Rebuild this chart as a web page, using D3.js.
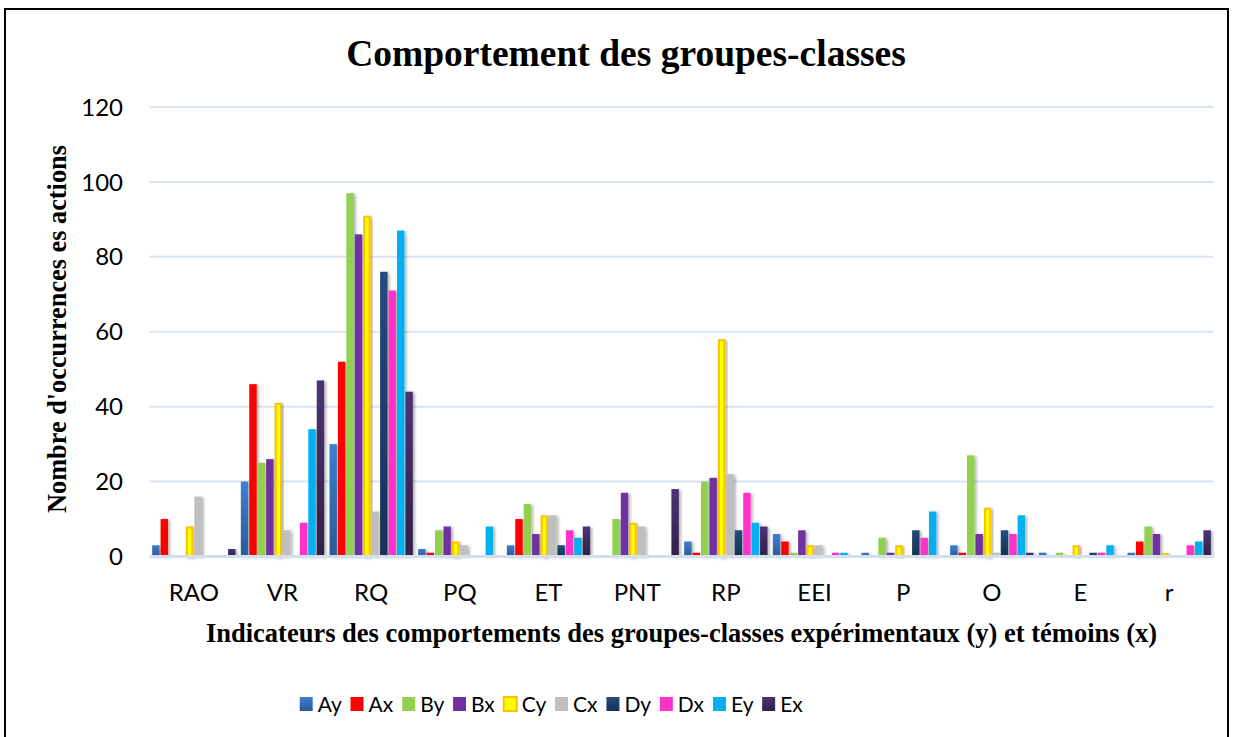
<!DOCTYPE html>
<html>
<head>
<meta charset="utf-8">
<script src="https://cdn.jsdelivr.net/npm/d3@7"></script>
<style>
  body { margin: 0; background: #fff; }
  svg { display: block; }
</style>
</head>
<body>
<svg id="chart" width="1233" height="737"></svg>
<script>
// categories (indicateurs) and series (groupes-classes)
const categories = ["RAO", "VR", "RQ", "PQ", "ET", "PNT", "RP", "EEI", "P", "O", "E", "r"];
const seriesNames = ["Ay", "Ax", "By", "Bx", "Cy", "Cx", "Dy", "Dx", "Ey", "Ex"];

const Ay = [3, 20, 30, 2, 3, 0, 4, 6, 1, 3, 1, 1];
const Ax = [10, 46, 52, 1, 10, 0, 1, 4, 0, 1, 0, 4];
const By = [0, 25, 97, 7, 14, 10, 20, 1, 5, 27, 1, 8];
const Bx = [0, 26, 86, 8, 6, 17, 21, 7, 1, 6, 0, 6];
const Cy = [8, 41, 91, 4, 11, 9, 58, 3, 3, 13, 3, 1];
const Cx = [16, 7, 12, 3, 11, 8, 22, 3, 0, 1, 0, 0];
const Dy = [0, 0, 76, 0, 3, 0, 7, 0, 7, 7, 1, 0];
const Dx = [0, 9, 71, 0, 7, 0, 17, 1, 5, 6, 1, 3];
const Ey = [0, 34, 87, 8, 5, 0, 9, 1, 12, 11, 3, 4];
const Ex = [2, 47, 44, 0, 8, 18, 8, 0, 0, 1, 0, 7];

const yTicks = [0, 20, 40, 60, 80, 100, 120];

const seriesValues = { Ay, Ax, By, Bx, Cy, Cx, Dy, Dx, Ey, Ex };

const colors = {
  Ay: ["#3d7fd2", "#2b5b95"],
  Ax: ["#ff0000", "#ff0000"],
  By: ["#92d050", "#92d050"],
  Bx: ["#7030a0", "#7030a0"],
  Cy: ["#ffff00", "#ffff00"],
  Cx: ["#bfbfbf", "#bfbfbf"],
  Dy: ["#224c7c", "#163056"],
  Dx: ["#ff33cc", "#ff33cc"],
  Ey: ["#00b0f0", "#00b0f0"],
  Ex: ["#4b3373", "#31204a"]
};

const svg = d3.select("#chart");
const defs = svg.append("defs");

const shadow = defs.append("filter").attr("id", "shadow")
  .attr("x", "-50%").attr("y", "-10%").attr("width", "200%").attr("height", "130%");
shadow.append("feDropShadow")
  .attr("dx", 2).attr("dy", 1).attr("stdDeviation", 1.8)
  .attr("flood-color", "#000").attr("flood-opacity", 0.3);

seriesNames.forEach(s => {
  const g = defs.append("linearGradient").attr("id", "grad-" + s)
    .attr("x1", 0).attr("y1", 0).attr("x2", 0).attr("y2", 1);
  g.append("stop").attr("offset", "0%").attr("stop-color", colors[s][0]);
  g.append("stop").attr("offset", "100%").attr("stop-color", colors[s][1]);
});

// outer frame
svg.append("rect")
  .attr("x", 5).attr("y", 9).attr("width", 1223).attr("height", 740)
  .attr("fill", "none").attr("stroke", "#000").attr("stroke-width", 2);

const plot = { left: 149.5, right: 1213.5, top: 107, bottom: 556.5 };

const x0 = d3.scaleBand()
  .domain(categories)
  .range([plot.left, plot.right])
  .paddingInner(0.06)
  .paddingOuter(0.03);

const x1 = d3.scaleBand()
  .domain(seriesNames)
  .range([0, x0.bandwidth()])
  .paddingInner(0.12);

const y = d3.scaleLinear().domain([0, 120]).range([plot.bottom, plot.top]);

// gridlines
svg.append("g")
  .selectAll("line")
  .data(yTicks.filter(t => t > 0))
  .join("line")
  .attr("x1", plot.left).attr("x2", plot.right)
  .attr("y1", d => y(d)).attr("y2", d => y(d))
  .attr("stroke", "#d9e3f1").attr("stroke-width", 2);

// y tick labels
svg.append("g")
  .selectAll("text")
  .data(yTicks)
  .join("text")
  .attr("x", 123)
  .attr("y", d => y(d))
  .attr("dy", "0.36em")
  .attr("text-anchor", "end")
  .attr("font-family", "Lato, sans-serif")
  .attr("font-size", 24)
  .attr("fill", "#000")
  .text(d => d);

// bars
const rows = categories.map((c, i) => ({
  cat: c,
  values: seriesNames.map(s => ({ s, v: seriesValues[s][i] }))
}));

const groups = svg.append("g")
  .selectAll("g")
  .data(rows)
  .join("g")
  .attr("transform", d => `translate(${x0(d.cat)},0)`);

groups.selectAll("rect")
  .data(d => d.values.filter(e => e.v > 0))
  .join("rect")
  .attr("x", d => x1(d.s) + (d.s === "Cy" ? 1 : 0))
  .attr("y", d => y(d.v) + (d.s === "Cy" ? 1 : 0))
  .attr("width", d => x1.bandwidth() - (d.s === "Cy" ? 2 : 0))
  .attr("height", d => Math.max(0, y(0) - y(d.v) - (d.s === "Cy" ? 1 : 0)))
  .attr("fill", d => `url(#grad-${d.s})`)
  .attr("stroke", d => d.s === "Cy" ? "#ffc000" : "none")
  .attr("stroke-width", d => d.s === "Cy" ? 2 : 0)
  .attr("filter", "url(#shadow)");

// baseline
svg.append("line")
  .attr("x1", plot.left).attr("x2", plot.right)
  .attr("y1", y(0)).attr("y2", y(0))
  .attr("stroke", "#d3deee").attr("stroke-width", 3);

// category labels
svg.append("g")
  .selectAll("text")
  .data(categories)
  .join("text")
  .attr("x", d => x0(d) + x0.bandwidth() / 2)
  .attr("y", 601)
  .attr("text-anchor", "middle")
  .attr("font-family", "Lato, sans-serif")
  .attr("font-size", 24)
  .attr("fill", "#000")
  .text(d => d);

// title
svg.append("text")
  .attr("x", 626).attr("y", 66)
  .attr("text-anchor", "middle")
  .attr("font-family", "'Liberation Serif', 'Times New Roman', serif")
  .attr("font-weight", "bold")
  .attr("font-size", 37.5)
  .text("Comportement des groupes-classes");

// axis titles
svg.append("text")
  .attr("x", 681.5).attr("y", 642)
  .attr("text-anchor", "middle")
  .attr("font-family", "'Liberation Serif', 'Times New Roman', serif")
  .attr("font-weight", "bold")
  .attr("font-size", 26.5)
  .text("Indicateurs des comportements des groupes-classes expérimentaux (y) et témoins (x)");

svg.append("text")
  .attr("transform", "translate(66,329) rotate(-90)")
  .attr("text-anchor", "middle")
  .attr("font-family", "'Liberation Serif', 'Times New Roman', serif")
  .attr("font-weight", "bold")
  .attr("font-size", 26.3)
  .text("Nombre d'occurrences es actions");

// legend
const legend = svg.append("g");
const items = legend.selectAll("g")
  .data(seriesNames)
  .join("g");

items.append("rect")
  .attr("width", 13).attr("height", 14)
  .attr("y", -7)
  .attr("fill", d => `url(#grad-${d})`)
  .attr("stroke", d => d === "Cy" ? "#ffc000" : "none")
  .attr("stroke-width", d => d === "Cy" ? 2 : 0);

items.append("text")
  .attr("x", 18)
  .attr("dy", "0.36em")
  .attr("font-family", "Lato, sans-serif")
  .attr("font-size", 21)
  .attr("fill", "#000")
  .text(d => d);

const gap = 8.5;
let cursor = 0;
items.each(function() {
  const w = this.getBBox().width;
  d3.select(this).attr("transform", `translate(${cursor},0)`);
  cursor += w + gap;
});
const legendWidth = cursor - gap;
legend.attr("transform", `translate(${551.5 - legendWidth / 2},704)`);
</script>
</body>
</html>
